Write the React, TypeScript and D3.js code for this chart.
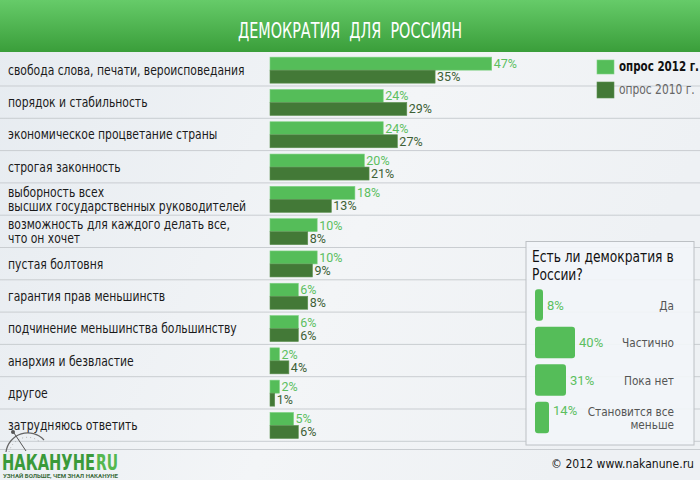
import * as d3 from "d3";
import type { ReactNode } from "react";

const categories = [
  "свобода слова, печати, вероисповедания",
  "порядок и стабильность",
  "экономическое процветание страны",
  "строгая законность",
  "выборность всех\nвысших государственных руководителей",
  "возможность для каждого делать все,\nчто он хочет",
  "пустая болтовня",
  "гарантия прав меньшинств",
  "подчинение меньшинства большинству",
  "анархия и безвластие",
  "другое",
  "затрудняюсь ответить",
];
const values2012 = [47, 24, 24, 20, 18, 10, 10, 6, 6, 2, 2, 5];
const values2010 = [35, 29, 27, 21, 13, 8, 9, 8, 6, 4, 1, 6];
const seriesNames = ["опрос 2012 г.", "опрос 2010 г."];

const answers = ["Да", "Частично", "Пока нет", "Становится все\nменьше"];
const answerValues = [8, 40, 31, 14];

const NARROW = "'DejaVu Sans Condensed', 'DejaVu Sans', sans-serif";
const SANS = "Roboto, 'DejaVu Sans', sans-serif";
const LIGHT = "#55bd59";
const DARK = "#437937";

type NTextProps = {
  x: number;
  y: number;
  s: number;
  children: ReactNode;
  [k: string]: unknown;
};

// condensed text, squeezed a bit more horizontally
function NText({ x, y, s, children, ...rest }: NTextProps) {
  return (
    <text
      transform={`translate(${x},${y}) scale(${s},1)`}
      fontFamily={NARROW}
      style={{ fontStretch: "condensed", whiteSpace: "pre" }}
      {...rest}
    >
      {children}
    </text>
  );
}

export default function App() {
  const width = 700;
  const height = 480;

  const x = d3.scaleLinear().domain([0, 47]).range([270, 491.7]);
  const y = d3
    .scaleBand<number>()
    .domain(d3.range(categories.length))
    .range([54, 54 + categories.length * 32.3]);
  const barH = 13;

  const xi = d3.scaleLinear().domain([0, 40]).range([535, 575]);
  const yi = d3
    .scaleBand<number>()
    .domain(d3.range(answers.length))
    .range([286.3, 436.3])
    .paddingInner(0.16)
    .paddingOuter(0.08);

  return (
    <svg
      width={width}
      height={height}
      style={{ position: "absolute", left: 0, top: 0 }}
    >
      <defs>
        <linearGradient id="bg" x1="0" y1="0" x2="1" y2="0.3">
          <stop offset="0" stopColor="#e6ebf0" />
          <stop offset="0.6" stopColor="#f3f5f7" />
          <stop offset="1" stopColor="#eef1f4" />
        </linearGradient>
        <linearGradient id="head" x1="0" y1="0" x2="0" y2="1">
          <stop offset="0" stopColor="#66cb69" />
          <stop offset="1" stopColor="#3a9e3a" />
        </linearGradient>
      </defs>
      <rect width={width} height={height} fill="url(#bg)" />
      <rect width={width} height={52} fill="url(#head)" />
      <text
        x={350}
        y={38}
        textAnchor="middle"
        fill="#fff"
        fontFamily={NARROW}
        fontSize={21}
        textLength={224}
        lengthAdjust="spacingAndGlyphs"
        style={{ whiteSpace: "pre", fontStretch: "condensed" }}
      >
        ДЕМОКРАТИЯ  ДЛЯ  РОССИЯН
      </text>

      {categories.map((c, i) => {
        const y0 = y(i)!;
        const cy = y0 + y.bandwidth() / 2;
        const lines = c.split("\n");
        return (
          <g key={c}>
            <line x1={0} x2={width} y1={y0 + 32} y2={y0 + 32} stroke="#c9cdd1" strokeWidth={1} />
            {lines.map((l, k) => (
              <NText
                key={k}
                x={8}
                y={cy + (k - (lines.length - 1) / 2) * 14}
                s={0.89}
                dy="0.35em"
                fontSize={13.5}
                fill="#1a1a1a"
              >
                {l}
              </NText>
            ))}
            <rect
              x={x(0)}
              y={cy - barH}
              width={x(values2012[i]) - x(0)}
              height={barH}
              fill={LIGHT}
              stroke="#7fd283"
              strokeWidth={0.6}
            />
            <rect
              x={x(0)}
              y={cy}
              width={x(values2010[i]) - x(0)}
              height={barH}
              fill={DARK}
              stroke="#5d9151"
              strokeWidth={0.6}
            />
            <text
              x={x(values2012[i]) + 2}
              y={cy - barH / 2}
              dy="0.36em"
              fontFamily={SANS}
              fontSize={12.5}
              fill="#5cbf5f"
            >
              {values2012[i]}%
            </text>
            <text
              x={x(values2010[i]) + 2}
              y={cy + barH / 2}
              dy="0.36em"
              fontFamily={SANS}
              fontSize={12.5}
              fill="#3d5f35"
            >
              {values2010[i]}%
            </text>
          </g>
        );
      })}

      {/* legend */}
      <rect x={597} y={60} width={17} height={14} fill={LIGHT} stroke="#7fd283" strokeWidth={0.6} />
      <rect x={597} y={82} width={17} height={16} fill={DARK} stroke="#5d9151" strokeWidth={0.6} />
      <NText x={619} y={71} s={0.85} fontSize={13.5} fontWeight="bold" fill="#111">
        {seriesNames[0]}
      </NText>
      <NText x={619} y={94} s={0.88} fontSize={13.5} fill="#666">
        {seriesNames[1]}
      </NText>

      {/* inset */}
      <rect x={526} y={241.5} width={168} height={203.5} fill="#f2f5f8" fillOpacity={0.92} stroke="#bcc0c4" strokeWidth={1} />
      <NText x={532} y={262} s={0.91} fontSize={15} fill="#111">
        Есть ли демократия в
      </NText>
      <NText x={532} y={280} s={0.91} fontSize={15} fill="#111">
        России?
      </NText>
      {answers.map((a, i) => {
        const y0 = yi(i)!;
        const cy = y0 + yi.bandwidth() / 2;
        const lines = a.split("\n");
        return (
          <g key={a}>
            <rect
              x={xi(0)}
              y={y0}
              width={xi(answerValues[i]) - xi(0)}
              height={yi.bandwidth()}
              rx={3}
              fill={LIGHT}
            />
            <text
              x={xi(answerValues[i]) + 4}
              y={cy - (lines.length > 1 ? 7 : 0)}
              dy="0.35em"
              fontFamily={SANS}
              fontSize={13}
              fill="#5cbf5f"
            >
              {answerValues[i]}%
            </text>
            {lines.map((l, k) => (
              <NText
                key={k}
                x={674}
                y={cy + (k - (lines.length - 1) / 2) * 13}
                s={0.9}
                dy="0.35em"
                textAnchor="end"
                fontSize={13}
                fill="#555"
              >
                {l}
              </NText>
            ))}
          </g>
        );
      })}

      {/* footer */}
      <line x1={0} x2={width} y1={449.5} y2={449.5} stroke="#c9cdd1" strokeWidth={1} />
      <NText x={694} y={468} s={0.93} textAnchor="end" fontSize={13} fill="#111">
        © 2012 www.nakanune.ru
      </NText>

      {/* logo */}
      <g>
        <path d="M6,452 A22,22 0 0 1 44,440" fill="none" stroke="#666" strokeWidth={1.2} />
        <path d="M9,452 A19,19 0 0 1 40,442" fill="none" stroke="#999" strokeWidth={0.8} strokeDasharray="1 3" />
        <line x1={14} y1={433} x2={26} y2={451} stroke="#555" strokeWidth={1} />
        <circle cx={13} cy={432} r={2} fill="#555" />
        <text
          x={2}
          y={470}
          fontFamily={NARROW}
          fontSize={22}
          fontWeight="bold"
          fill="#3a9a3a"
          textLength={93}
          lengthAdjust="spacingAndGlyphs"
          style={{ fontStretch: "condensed" }}
        >
          НАКАНУНЕ
        </text>
        <text
          x={96}
          y={470}
          fontFamily={NARROW}
          fontSize={22}
          fontWeight="bold"
          fill="#55b84f"
          textLength={22}
          lengthAdjust="spacingAndGlyphs"
          style={{ fontStretch: "condensed" }}
        >
          RU
        </text>
        <text
          x={3}
          y={477.5}
          fontFamily={SANS}
          fontSize={5}
          fontWeight="bold"
          fill="#3a6a3a"
          textLength={115}
          lengthAdjust="spacingAndGlyphs"
        >
          УЗНАЙ БОЛЬШЕ, ЧЕМ ЗНАЛ НАКАНУНЕ
        </text>
      </g>
    </svg>
  );
}
